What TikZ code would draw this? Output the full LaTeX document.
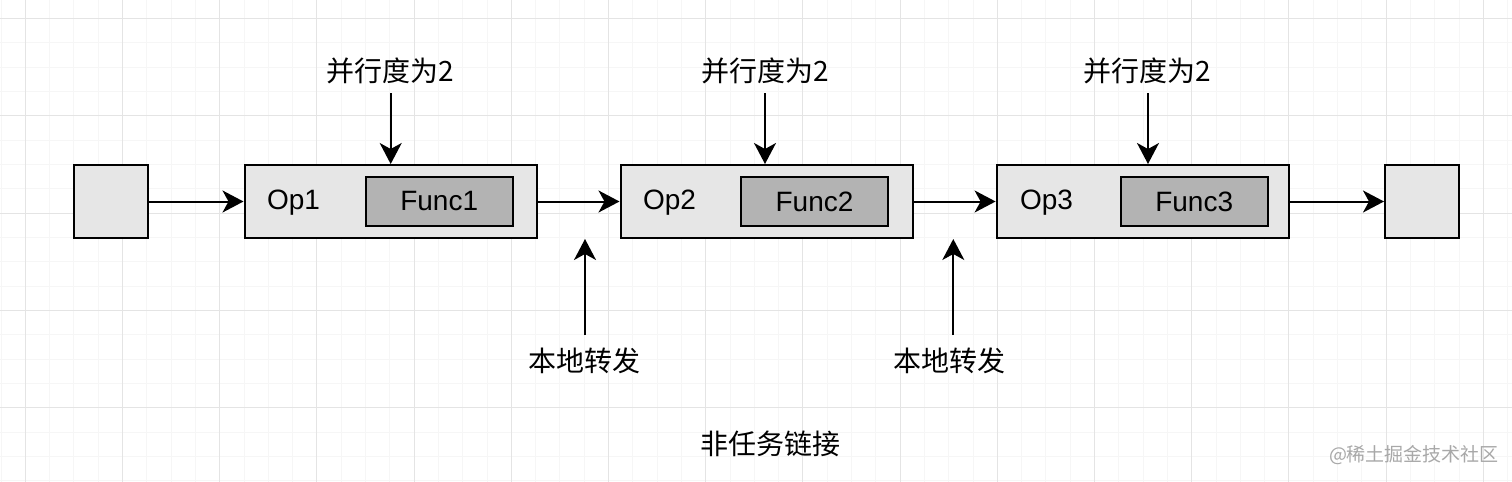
\documentclass[tikz,border=0pt]{standalone}
\usepackage{fontspec}
\setmainfont{Liberation Sans}
\newfontfamily\cjk{Noto Sans CJK SC}
\usetikzlibrary{arrows.meta}
\definecolor{boxfill}{HTML}{E6E6E6}
\definecolor{funcfill}{HTML}{B3B3B3}
\definecolor{gridminor}{HTML}{F6F6F6}
\definecolor{gridmajor}{HTML}{E4E4E4}
\definecolor{wmark}{HTML}{A8A8A8}
\tikzset{
  x=0.5pt, y=-0.5pt,
  minorline/.style={draw=gridminor, line width=0.5pt},
  majorline/.style={draw=gridmajor, line width=0.5pt},
  endbox/.style={draw=black, fill=boxfill, line width=1pt, minimum width=37pt, minimum height=36.5pt, inner sep=0pt},
  opbox/.style={draw=black, fill=boxfill, line width=1pt, minimum width=146pt, minimum height=36.5pt, inner sep=0pt},
  funcbox/.style={draw=black, fill=funcfill, line width=1pt, minimum width=73.5pt, minimum height=24.3pt, inner sep=0pt, font=\fontsize{14pt}{16pt}\selectfont},
  oplabel/.style={inner sep=0pt, font=\fontsize{14pt}{16pt}\selectfont},
  cjklabel/.style={inner sep=0pt, font=\cjk\fontsize{14pt}{16pt}\selectfont},
  conn/.style={draw=black, line width=1pt, -{Stealth[length=10.5pt, width=11pt, inset=3pt]}},
}
\begin{document}
\begin{tikzpicture}
\useasboundingbox (0,0) rectangle (1512,482);
\fill[white] (0,0) rectangle (1512,482);
% grid
\foreach \i in {0,...,62} { \draw[minorline] ({1+24.3*\i},0) -- ({1+24.3*\i},482); }
\foreach \i in {-1,...,19} { \draw[minorline] (0,{18.3+24.35*\i}) -- (1512,{18.3+24.35*\i}); }
\foreach \i in {0,...,15} { \draw[majorline] ({25.3+97.2*\i},0) -- ({25.3+97.2*\i},482); }
\foreach \i in {0,...,4} { \draw[majorline] (0,{18.3+97.4*\i}) -- (1512,{18.3+97.4*\i}); }
% boxes
\node[endbox] (src) at (111,201.5) {};
\node[opbox] (op1) at (390.5,201.5) {};
\node[opbox] (op2) at (766.5,201.5) {};
\node[opbox] (op3) at (1142.6,201.5) {};
\node[endbox] (dst) at (1422,201.5) {};
\node[funcbox] (f1) at (439.2,201.4) {Func1};
\node[funcbox] (f2) at (814.5,201.4) {Func2};
\node[funcbox] (f3) at (1194.2,201.4) {Func3};
\node[oplabel] (o1) at (293.5,203) {Op1};
\node[oplabel] (o2) at (669.5,203) {Op2};
\node[oplabel] (o3) at (1046.5,203) {Op3};
% connectors
\draw[conn] (src.east) -- (op1.west);
\draw[conn] (op1.east) -- (op2.west);
\draw[conn] (op2.east) -- (op3.west);
\draw[conn] (op3.east) -- (dst.west);
% top labels
\node[cjklabel] (p1) at (390,71) {并行度为2};
\node[cjklabel] (p2) at (765,71) {并行度为2};
\node[cjklabel] (p3) at (1147,71) {并行度为2};
\coordinate (t1) at (390.7,93);
\coordinate (t2) at (765,93);
\coordinate (t3) at (1148,93);
\draw[conn] (t1) -- (t1 |- op1.north);
\draw[conn] (t2) -- (t2 |- op2.north);
\draw[conn] (t3) -- (t3 |- op3.north);
% bottom labels
\node[cjklabel] (l1) at (584,361) {本地转发};
\node[cjklabel] (l2) at (949,361) {本地转发};
\coordinate (b1s) at (585,335);
\coordinate (b1e) at (585,239);
\coordinate (b2s) at (953.3,335);
\coordinate (b2e) at (953.3,239);
\draw[conn] (b1s) -- (b1e);
\draw[conn] (b2s) -- (b2e);
\node[cjklabel] (title) at (770,444) {非任务链接};
\node[inner sep=0pt, text=wmark, font=\cjk\fontsize{9.5pt}{11pt}\selectfont] (wm) at (1414,455.5) {@稀土掘金技术社区};
\end{tikzpicture}
\end{document}
